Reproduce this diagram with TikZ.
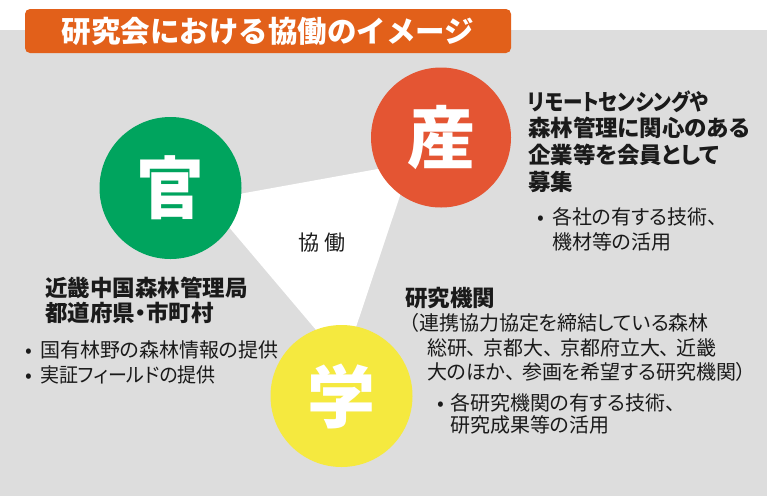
\documentclass[tikz,border=0pt]{standalone}
\usepackage{graphicx}
\usepackage{fontspec}
\setmainfont{Noto Sans CJK JP}[RawFeature=+palt]
\newfontfamily\titlefont{Noto Sans CJK JP}
\definecolor{bggray}{HTML}{DDDDDD}
\definecolor{titleor}{HTML}{E2601A}
\definecolor{kangreen}{HTML}{00A45E}
\definecolor{sanred}{HTML}{E45533}
\definecolor{gakuyel}{HTML}{F5E93F}
\definecolor{txt}{HTML}{1A1A1A}
\newcommand\bul[1]{\makebox[#1][l]{•}}
\newcommand\tc{\makebox[16.5pt][l]{、}}
\begin{document}
\begin{tikzpicture}[x=1pt,y=-1pt,
  every node/.style={inner sep=0pt,outer sep=0pt},
  head/.style={anchor=west,text=txt,font=\fontsize{22.5}{27}\selectfont\bfseries},
  body/.style={anchor=west,text=txt,font=\fontsize{20}{24}\selectfont},
  disc/.style={circle,minimum size=142pt,text=white,font=\fontsize{68}{70}\selectfont\bfseries},
  titlebox/.style={fill=titleor,rounded corners=5pt,minimum width=486pt,minimum height=44pt,text=white,font=\titlefont\fontsize{29.5}{32}\selectfont\bfseries}
]
\useasboundingbox (0,0) rectangle (781,496);
\fill[white] (0,0) rectangle (781,496);
\fill[bggray] (0,30) rectangle (767,496);

\node[titlebox] (title) at (268,31) {研究会における協働のイメージ};

% collaboration triangle
\coordinate (tA) at (206,200);
\coordinate (tB) at (411,163);
\coordinate (tC) at (344,363);
\fill[white] (tA) -- (tB) -- (tC) -- cycle;
\node[text=txt,font=\fontsize{21}{24}\selectfont] (kyodo) at (322,243) {協\hspace{5pt}働};

% circles
\node[disc,fill=kangreen] (kan) at (170.5,188) {官};
\node[disc,fill=sanred,minimum size=140pt] (san) at (441,137.5) {産};
\node[disc,fill=gakuyel] (gaku) at (341.5,396) {学};

% government
\node[head] (k1) at (45,288) {近畿中国森林管理局};
\node[head] (k2) at (45,313) {都道府県\makebox[11.25pt][c]{・}市町村};
\node[body] (k3) at (25,350) {\bul{15pt}国有林野の森林情報の提供};
\node[body] (k4) at (25,375) {\bul{15pt}\scalebox{0.95}[1]{実証フィールドの提供}};

% industry
\node[head] (s1) at (528,102) {\scalebox{0.87}[1]{リモートセンシングや}};
\node[head] (s2) at (528,128) {森林管理に関心のある};
\node[head] (s3) at (528,155) {企業等を会員として};
\node[head] (s4) at (528,182) {募集};
\node[body] (s5) at (537,217) {\bul{15pt}各社の有する技術、};
\node[body] (s6) at (552,242) {機材等の活用};

% academia
\node[head] (g1) at (405,298) {研究機関};
\node[body] (g2) at (409,323) {（連携協力協定を締結している森林};
\node[body] (g3) at (427,348) {総研\tc 京都大\tc 京都府立大\tc 近畿};
\node[body] (g4) at (427,372) {大のほか\tc 参画を希望する研究機関）};
\node[body] (g5) at (437,403) {\bul{13pt}各研究機関の有する技術、};
\node[body] (g6) at (450,425) {研究成果等の活用};
\end{tikzpicture}
\end{document}
